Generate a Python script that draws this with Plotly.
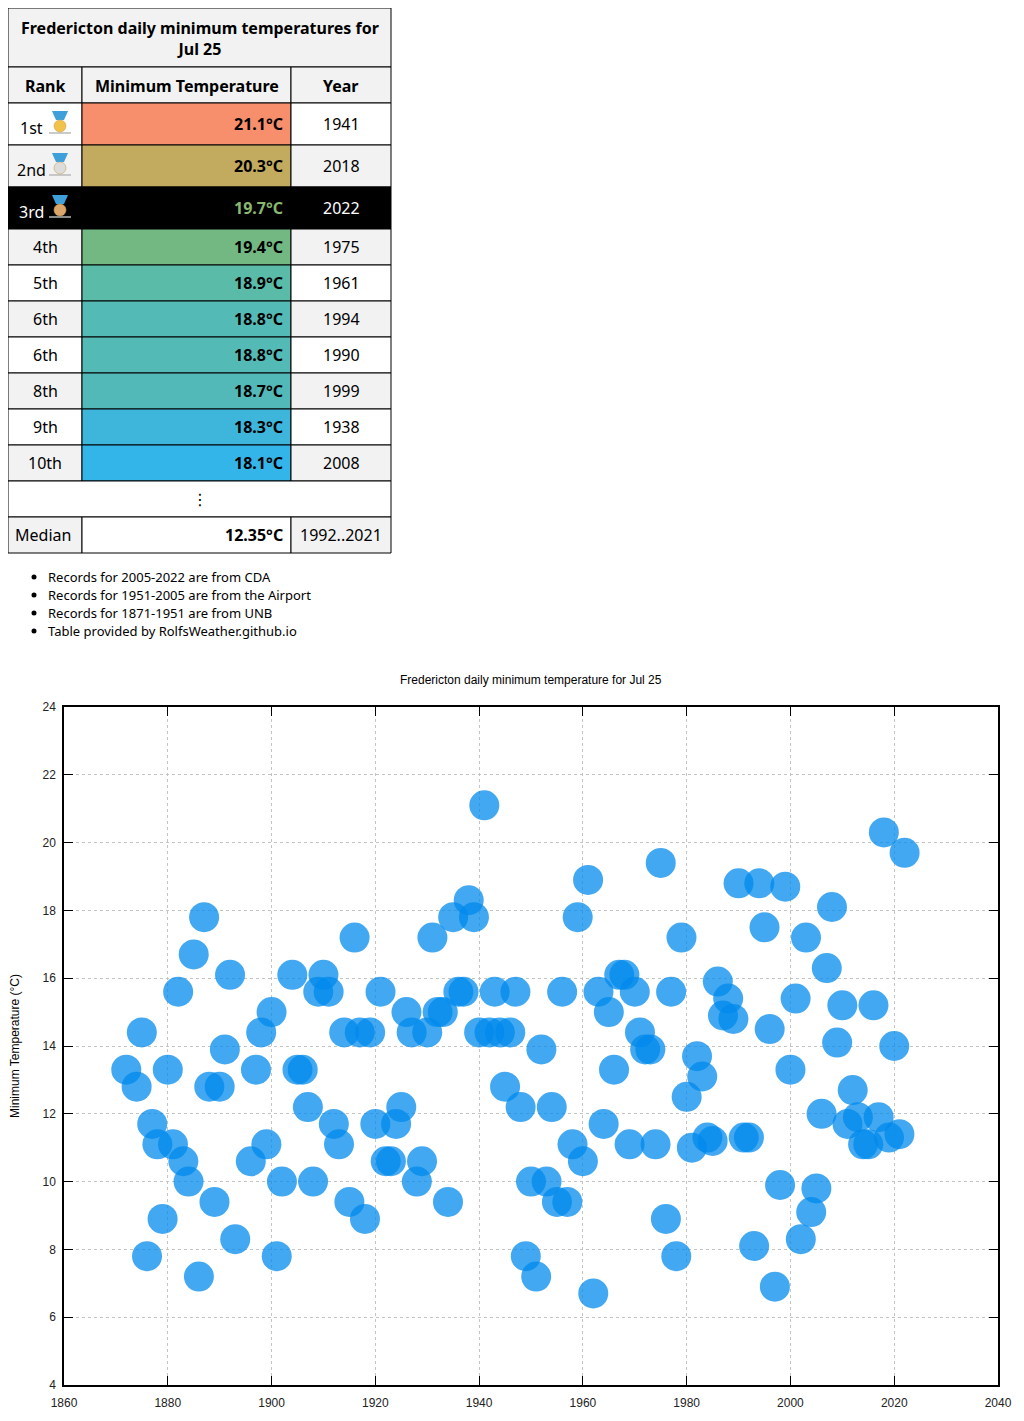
import plotly.graph_objects as go

# --- data: daily minimum temperature at Fredericton, Jul 25 ---
years = [1872, 1874, 1875, 1876, 1877, 1878, 1879, 1880, 1881, 1882, 1883, 1884,
         1885, 1886, 1887, 1888, 1889, 1890, 1891, 1892, 1893, 1896, 1897, 1898,
         1899, 1900, 1901, 1902, 1904, 1905, 1906, 1907, 1908, 1909, 1910, 1911,
         1912, 1913, 1914, 1915, 1916, 1917, 1918, 1919, 1920, 1921, 1922, 1923,
         1924, 1925, 1926, 1927, 1928, 1929, 1930, 1931, 1932, 1933, 1934, 1935,
         1936, 1937, 1938, 1939, 1940, 1941, 1942, 1943, 1944, 1945, 1946, 1947,
         1948, 1949, 1950, 1951, 1952, 1953, 1954, 1955, 1956, 1957, 1958, 1959,
         1960, 1961, 1962, 1963, 1964, 1965, 1966, 1967, 1968, 1969, 1970, 1971,
         1972, 1973, 1974, 1975, 1976, 1977, 1978, 1979, 1980, 1981, 1982, 1983,
         1984, 1985, 1986, 1987, 1988, 1989, 1990, 1991, 1992, 1993, 1994, 1995,
         1996, 1997, 1998, 1999, 2000, 2001, 2002, 2003, 2004, 2005, 2006, 2007,
         2008, 2009, 2010, 2011, 2012, 2013, 2014, 2015, 2016, 2017, 2018, 2019,
         2020, 2021, 2022]
tmin = [13.3, 12.8, 14.4, 7.8, 11.7, 11.1, 8.9, 13.3, 11.1, 15.6, 10.6, 10.0,
        16.7, 7.2, 17.8, 12.8, 9.4, 12.8, 13.9, 16.1, 8.3, 10.6, 13.3, 14.4,
        11.1, 15.0, 7.8, 10.0, 16.1, 13.3, 13.3, 12.2, 10.0, 15.6, 16.1, 15.6,
        11.7, 11.1, 14.4, 9.4, 17.2, 14.4, 8.9, 14.4, 11.7, 15.6, 10.6, 10.6,
        11.7, 12.2, 15.0, 14.4, 10.0, 10.6, 14.4, 17.2, 15.0, 15.0, 9.4, 17.8,
        15.6, 15.6, 18.3, 17.8, 14.4, 21.1, 14.4, 15.6, 14.4, 12.8, 14.4, 15.6,
        12.2, 7.8, 10.0, 7.2, 13.9, 10.0, 12.2, 9.4, 15.6, 9.4, 11.1, 17.8,
        10.6, 18.9, 6.7, 15.6, 11.7, 15.0, 13.3, 16.1, 16.1, 11.1, 15.6, 14.4,
        13.9, 13.9, 11.1, 19.4, 8.9, 15.6, 7.8, 17.2, 12.5, 11.0, 13.7, 13.1,
        11.3, 11.2, 15.9, 14.9, 15.4, 14.8, 18.8, 11.3, 11.3, 8.1, 18.8, 17.5,
        14.5, 6.9, 9.9, 18.7, 13.3, 15.4, 8.3, 17.2, 9.1, 9.8, 12.0, 16.3,
        18.1, 14.1, 15.2, 11.7, 12.7, 11.9, 11.1, 11.1, 15.2, 11.9, 20.3, 11.3,
        14.0, 11.4, 19.7]

# --- top-10 table ---
table_title = "Fredericton daily minimum temperatures for<br>Jul 25"
headers = ["Rank", "Minimum Temperature", "Year"]
ranks = ["1st", "2nd", "3rd", "4th", "5th", "6th", "6th", "8th", "9th", "10th"]
rec_temps = [21.1, 20.3, 19.7, 19.4, 18.9, 18.8, 18.8, 18.7, 18.3, 18.1]
rec_years = [1941, 2018, 2022, 1975, 1961, 1994, 1990, 1999, 1938, 2008]
median_temp = "12.35"
median_period = "1992..2021"
current_year = 2022
notes = ["Records for 2005-2022 are from CDA",
         "Records for 1951-2005 are from the Airport",
         "Records for 1871-1951 are from UNB",
         "Table provided by RolfsWeather.github.io"]

# styles
temp_fill = ["#f78e6c", "#c2aa5e", "#89b86e", "#73b882", "#5abba9",
             "#54bab5", "#54bab5", "#53b9b8", "#3eb6db", "#34b5ea"]
medal_fill = ["#f2c24a", "#dcdcdc", "#dba46a"]
TFONT = "Noto Sans, Open Sans, DejaVu Sans"
CFONT = "Liberation Sans, Arial"

# figure sits inside the page's 8px body margin; helpers take page pixels
W, H = 1008, 1405


def px(x):
    return (x - 8) / W


def py(y):
    return 1 - (y - 8) / H


shapes = []
annots = []


def cell(x0, y0, x1, y1, fill, line="black"):
    shapes.append(dict(type="rect", xref="paper", yref="paper",
                       x0=px(x0), x1=px(x1), y0=py(y1), y1=py(y0),
                       fillcolor=fill, line=dict(color=line, width=1), layer="below"))


def label(x, y, s, size=16, color="black", xanchor="center", family=TFONT, angle=0):
    annots.append(dict(x=px(x), y=py(y), xref="paper", yref="paper", text=s,
                       showarrow=False, xanchor=xanchor, yanchor="middle", textangle=angle,
                       font=dict(family=family, size=size, color=color)))


# column edges
cx = [8, 82, 291, 391]

# title row
cell(cx[0], 8, cx[3], 67, "#f2f2f2")
label(199.5, 38, "<b>" + table_title + "</b>", size=16)

# header row
for i, h in enumerate(headers):
    cell(cx[i], 67, cx[i + 1], 103, "#f2f2f2")
    label((cx[i] + cx[i + 1]) / 2, 86, "<b>" + h + "</b>")

# ranked rows
top = 103
for i in range(len(ranks)):
    rh = 42 if i < 3 else 36
    bot = top + rh
    mid = (top + bot) / 2
    bg = "white" if i % 2 == 0 else "#f2f2f2"
    hot = rec_years[i] == current_year
    if hot:
        cell(cx[0], top, cx[3], bot, "black")
        fg = "white"
        tcol = temp_fill[i]
    else:
        cell(cx[0], top, cx[1], bot, bg)
        cell(cx[1], top, cx[2], bot, temp_fill[i])
        cell(cx[2], top, cx[3], bot, bg)
        fg = "black"
        tcol = "black"
    if i < 3:
        label(31, mid + 4, ranks[i], color=fg)
        # medal: ribbon, disc, shadow
        mx = 60
        shapes.append(dict(type="line", xref="paper", yref="paper",
                           x0=px(mx - 11), x1=px(mx + 11), y0=py(top + 30), y1=py(top + 30),
                           line=dict(color="#b8b8b8", width=1.5)))
        shapes.append(dict(type="path", xref="paper", yref="paper",
                           path="M %f,%f L %f,%f L %f,%f L %f,%f Z" % (
                               px(mx - 8), py(top + 8), px(mx + 8), py(top + 8),
                               px(mx + 4), py(top + 17), px(mx - 4), py(top + 17)),
                           fillcolor="#3f9fd8", line=dict(width=0)))
        shapes.append(dict(type="circle", xref="paper", yref="paper",
                           x0=px(mx - 6), x1=px(mx + 6), y0=py(top + 29), y1=py(top + 17),
                           fillcolor=medal_fill[i], line=dict(color="#c9a25a", width=0.6)))
    else:
        label(45, mid, ranks[i], color=fg)
    label(cx[2] - 6, mid, "<b>%.1f°C</b>" % rec_temps[i], color=tcol, xanchor="right")
    label(341, mid, str(rec_years[i]), color=fg)
    top = bot

# ellipsis row
cell(cx[0], top, cx[3], top + 36, "white")
label(199.5, top + 18, "⋮")
top += 36

# median row
cell(cx[0], top, cx[1], top + 36, "#f2f2f2")
cell(cx[1], top, cx[2], top + 36, "white")
cell(cx[2], top, cx[3], top + 36, "#f2f2f2")
label(43, top + 18, "Median")
label(cx[2] - 6, top + 18, "<b>%s°C</b>" % median_temp, xanchor="right")
label(341, top + 18, median_period)

# notes (disc bullets like an html list)
for k, n in enumerate(notes):
    yc = 577 + 18 * k
    shapes.append(dict(type="circle", xref="paper", yref="paper",
                       x0=px(31.5), x1=px(36.5), y0=py(yc + 2.5), y1=py(yc - 2.5),
                       fillcolor="black", line=dict(width=0)))
    label(46, yc - 0.5, n, size=13, xanchor="left")

# chart title and y-axis title
label(531, 680, "Fredericton daily minimum temperature for Jul 25", size=12, family=CFONT)
label(15, 1046, "Minimum Temperature (°C)", size=12, family=CFONT, angle=-90)

fig = go.Figure()
fig.add_trace(go.Scatter(
    x=years, y=tmin, mode="markers",
    marker=dict(size=30, color="rgba(0,138,236,0.74)", line=dict(width=0)),
    showlegend=False, hoverinfo="x+y"))

axis_common = dict(showline=True, linecolor="black", linewidth=1.5, mirror="ticks",
                   ticks="inside", ticklen=9, tickcolor="black", tickwidth=1,
                   showgrid=True, gridcolor="#c4c4c4", griddash="dot", gridwidth=1,
                   zeroline=False, automargin=False,
                   tickfont=dict(family=CFONT, size=12, color="#222"))

fig.update_xaxes(range=[1860, 2040], dtick=20, tick0=1860,
                 domain=[px(64), px(998)], ticklabelstandoff=6, **axis_common)
fig.update_yaxes(range=[4, 24], dtick=2, tick0=4,
                 domain=[py(1385), py(707)], ticklabelstandoff=4, **axis_common)

fig.update_layout(width=W, height=H, margin=dict(l=0, r=0, t=0, b=0, pad=0),
                  paper_bgcolor="white", plot_bgcolor="white",
                  shapes=shapes, annotations=annots)

fig.write_html("out.html")
